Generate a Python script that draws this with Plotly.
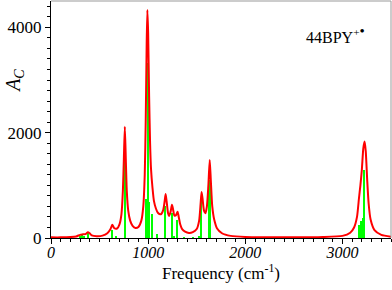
import plotly.graph_objects as go

# Stick spectrum (green): frequencies (cm^-1) and intensities
stick_freq = [305, 325, 345, 380, 631, 670, 760, 983, 997, 1014, 1045, 1097,
              1179, 1245, 1269, 1303, 1370, 1460, 1528, 1548, 1634,
              3172, 3197, 3210, 3228]
stick_int = [40, 50, 45, 90, 150, 25, 1650, 735, 3315, 683, 450, 70,
             600, 470, 40, 340, 10, 15, 40, 720, 1100,
             247, 320, 373, 1300]

# Broadened spectrum (red)
curve_freq = [0, 100, 200, 260, 300, 330, 360, 380, 395, 420, 470, 530, 580, 610, 631, 650,
              680, 705, 725, 740, 750, 760, 770, 780, 795, 815, 840, 870, 900, 930, 950,
              965, 975, 985, 992, 1000, 1010, 1020, 1030, 1045, 1060, 1080, 1100, 1130,
              1155, 1170, 1180, 1190, 1205, 1215, 1230, 1245, 1255, 1270, 1285, 1303, 1315,
              1330, 1350, 1380, 1420, 1460, 1500, 1525, 1540, 1550, 1560, 1575, 1590, 1605,
              1620, 1634, 1645, 1660, 1680, 1710, 1760, 1850, 2000, 2500, 2800, 3000, 3080,
              3120, 3150, 3170, 3185, 3200, 3215, 3228, 3240, 3255, 3270, 3290, 3330, 3400, 3500]
curve_int = [12, 12, 18, 30, 60, 70, 80, 110, 95, 50, 35, 45, 90, 160, 250, 190,
             180, 260, 450, 900, 1500, 2110, 1500, 900, 520, 330, 230, 190, 210, 330, 600,
             1200, 2200, 3700, 4330, 3900, 2700, 1800, 1300, 950, 700, 560, 480, 450,
             530, 700, 835, 700, 470, 420, 490, 630, 560, 430, 430, 500, 400,
             260, 170, 120, 95, 110, 170, 330, 650, 875, 750, 520, 470, 600,
             1000, 1480, 1100, 600, 350, 180, 90, 40, 20, 12, 18, 40, 100,
             200, 400, 750, 1000, 1300, 1700, 1830, 1650, 1100, 650, 350, 150, 60, 25]

x_ticks = [0, 1000, 2000, 3000]
y_ticks = [0, 2000, 4000]

fig = go.Figure()
fig.add_trace(go.Bar(x=stick_freq, y=stick_int, width=16,
                     marker=dict(color="#00ff00", line=dict(width=0)),
                     showlegend=False))
fig.add_trace(go.Scatter(x=curve_freq, y=curve_int, mode="lines",
                         line=dict(color="#ff0000", width=2, shape="spline", smoothing=0.6),
                         showlegend=False))

serif = "Liberation Serif, Times New Roman, serif"
fig.update_layout(
    width=392, height=290,
    margin=dict(l=51, r=1, t=1, b=52, autoexpand=False),
    paper_bgcolor="white", plot_bgcolor="white",
    bargap=0,
    font=dict(family=serif, color="black"),
    xaxis=dict(range=[0, 3500], tickvals=x_ticks, ticktext=[f"<i>{v}</i>" for v in x_ticks],
               showgrid=False, zeroline=False, showline=True, linecolor="black", linewidth=1,
               ticks="outside", ticklen=5, tickcolor="black", ticklabelstandoff=-5,
               tickfont=dict(family=serif, size=16),
               minor=dict(dtick=100, ticks="outside", ticklen=3, tickcolor="black"),
               title=dict(text="Frequency (cm<sup>-1</sup>)", font=dict(family=serif, size=17), standoff=0)),
    yaxis=dict(range=[0, 4500], tickvals=y_ticks,
               showgrid=False, zeroline=False, showline=True, linecolor="black", linewidth=1,
               ticks="outside", ticklen=5, tickcolor="black",
               tickfont=dict(family=serif, size=17),
               minor=dict(dtick=200, ticks="outside", ticklen=3, tickcolor="black")),
    shapes=[
        dict(type="line", xref="paper", yref="paper", x0=0, x1=1, y0=1, y1=1,
             line=dict(color="#999999", width=1)),
        dict(type="line", xref="paper", yref="paper", x0=1, x1=1, y0=0, y1=1,
             line=dict(color="#999999", width=1)),
    ],
    annotations=[
        dict(text="<i>A<sub>C</sub></i>", xref="paper", yref="paper", x=-0.15, y=0.72,
             textangle=-90, showarrow=False, font=dict(family=serif, size=20)),
        dict(text="44BPY<sup>+<span style='font-size:15px'>•</span></sup>", xref="paper", yref="paper",
             x=0.93, y=0.915, xanchor="right", showarrow=False, font=dict(family=serif, size=16)),
    ],
)

fig.write_html("out.html", post_script="document.body.style.margin='0';",
               config={"displayModeBar": False})
